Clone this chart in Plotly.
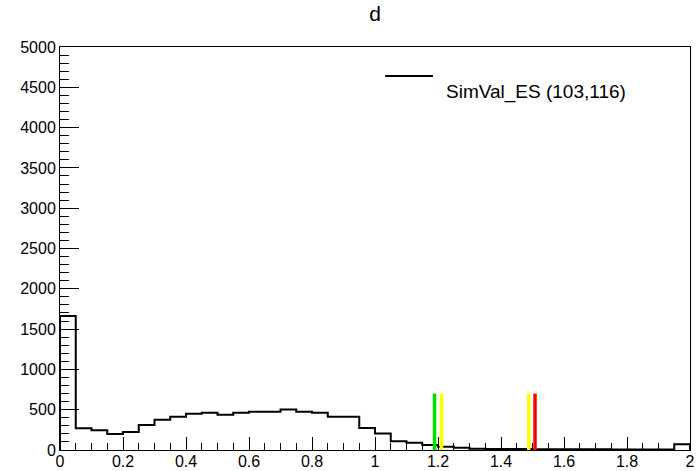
import plotly.graph_objects as go

# ---- data ----
bin_low = 0.0
bin_width = 0.05
counts = [1663, 269, 244, 198, 223, 310, 376, 414, 451, 463,
          438, 463, 476, 476, 501, 476, 463, 414, 414, 273,
          205, 108, 91, 62, 41, 28, 15, 13, 12, 11,
          10, 9, 9, 8, 8, 7, 7, 6, 6, 72]
marker_x = [1.189, 1.211, 1.488, 1.508]
marker_colors = ["#00dd00", "#ffff00", "#ffff00", "#ff0000"]
marker_top = 700
legend_label = "SimVal_ES (103,116)"
title_text = "d"

edges = [bin_low + i * bin_width for i in range(len(counts) + 1)]
step_x = [edges[0]] + edges
step_y = [0] + counts + [counts[-1]]

fig = go.Figure()
fig.add_trace(go.Scatter(x=step_x, y=step_y, mode="lines", line_shape="hv",
                         line=dict(color="black", width=2), showlegend=False,
                         hoverinfo="skip"))
fig.add_trace(go.Scatter(x=[edges[-1], edges[-1]], y=[counts[-1], 0], mode="lines",
                         line=dict(color="black", width=2), showlegend=False,
                         hoverinfo="skip"))
for mx, mc in zip(marker_x, marker_colors):
    fig.add_trace(go.Scatter(x=[mx, mx], y=[0, marker_top], mode="lines",
                             line=dict(color=mc, width=3.5), showlegend=False,
                             hoverinfo="skip"))

font = "Liberation Sans, Arial, Helvetica, sans-serif"
axis_common = dict(showline=True, linecolor="black", linewidth=1, mirror=True,
                   ticks="inside", tickcolor="black", showgrid=False, zeroline=False,
                   automargin=False,
                   tickfont=dict(family=font, size=16, color="black"))

fig.update_xaxes(range=[0, 2], dtick=0.2, tick0=0, ticklen=13, ticklabelstandoff=-3,
                 minor=dict(dtick=0.05, ticklen=7, ticks="inside", tickcolor="black"),
                 **axis_common)
fig.update_yaxes(range=[0, 5000], dtick=500, tick0=0, ticklen=19, tickformat="d",
                 minor=dict(dtick=100, ticklen=9, ticks="inside", tickcolor="black"),
                 **axis_common)

fig.add_shape(type="line", xref="paper", yref="paper", x0=0.516, x1=0.592,
              y0=0.928, y1=0.928, line=dict(color="black", width=2))
fig.add_annotation(xref="paper", yref="paper", x=0.610, y=0.888, text=legend_label,
                   showarrow=False, xanchor="left", yanchor="middle",
                   font=dict(family=font, size=19, color="black"))

fig.update_layout(
    width=697, height=471,
    margin=dict(l=60, r=7, t=47, b=21, autoexpand=False),
    paper_bgcolor="white", plot_bgcolor="white",
    title=dict(text=title_text, x=375 / 697, xanchor="center", y=1 - 14 / 471,
               yanchor="middle", font=dict(family=font, size=21, color="black")),
    showlegend=False,
)

fig.write_html("out.html", config={"displayModeBar": False},
               post_script="document.body.style.margin='0';document.body.style.overflow='hidden';")
